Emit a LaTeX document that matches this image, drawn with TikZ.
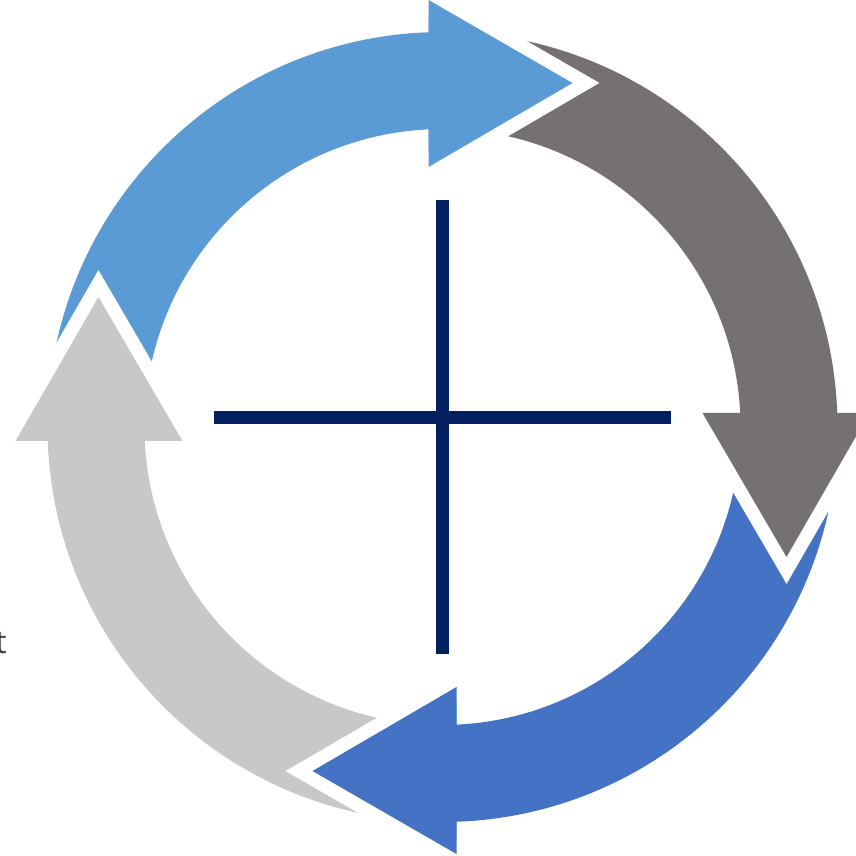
\documentclass[tikz,border=0pt]{standalone}
\usepackage{fontspec}
\setmainfont{Open Sans}
\definecolor{cyclea}{HTML}{5B9BD5}
\definecolor{cycleb}{HTML}{767171}
\definecolor{cyclec}{HTML}{4472C4}
\definecolor{cycled}{HTML}{C8C8C8}
\definecolor{crossnavy}{HTML}{002060}
\begin{document}
\begin{tikzpicture}[x=1pt, y=1pt,
  gap/.style={white, line width=27pt, line join=miter},
  bar/.style={crossnavy, line width=13pt},
  label/.style={font=\fontsize{32}{36}\selectfont, text=black!75, inner sep=0pt}
]
\useasboundingbox (-442.5,-429) rectangle (413.5,427);
% bodies of the four arrows, drawn clockwise
\foreach \rot/\col in {0/cyclea, -90/cycleb, -180/cyclec, -270/cycled} {
  \begin{scope}[rotate=\rot]
    \fill[\col] (175:395) arc[start angle=175, end angle=92.03, radius=395]
      -- (-14,427) -- (130,344) -- (-14,260) -- (92.69:298)
      arc[start angle=92.69, end angle=175, radius=298] -- cycle;
  \end{scope}
}
% heads on top, with a white gap cut into the next tail
\foreach \rot/\col in {0/cyclea, -90/cycleb, -180/cyclec, -270/cycled} {
  \begin{scope}[rotate=\rot]
    \draw[gap] (-14,427) -- (130,344) -- (-14,260);
    \fill[\col] (-14,427) -- (130,344) -- (-14,260) -- cycle;
  \end{scope}
}
\coordinate (up)    at (0,227);
\coordinate (down)  at (0,-227);
\coordinate (west)  at (-228.5,9.5);
\coordinate (east)  at (228,9.5);
\draw[bar] (up) -- (down);
\draw[bar] (west) -- (east);
\node[label, anchor=base east] (cut) at (-435.5,-226) {t};
\end{tikzpicture}
\end{document}
